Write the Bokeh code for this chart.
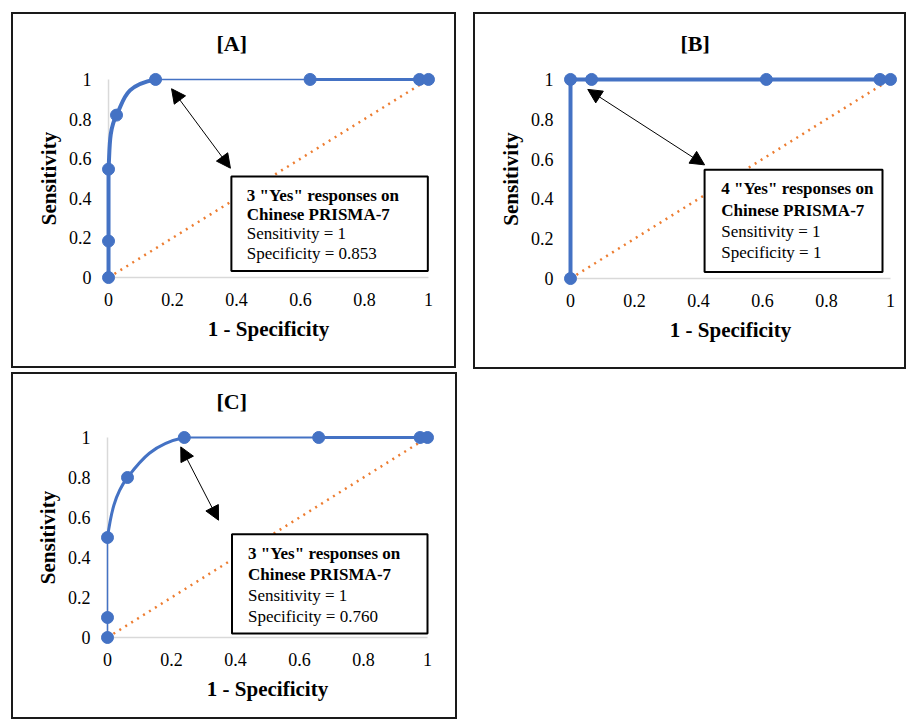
from bokeh.plotting import figure
from bokeh.layouts import row, column
from bokeh.models import Range1d, FixedTicker, CustomJSTickFormatter, Arrow, NormalHead
from bokeh.core.properties import value
from bokeh.embed import file_html
from bokeh.resources import INLINE

# ---------------- data ----------------
ticks = [0, 0.2, 0.4, 0.6, 0.8, 1]
diag_x = [0, 1]
diag_y = [0, 1]

a_x = [0, 0, 0, 0.025, 0.147, 0.63, 0.972, 1]
a_y = [0, 0.184, 0.547, 0.82, 1, 1, 1, 1]

b_x = [0, 0, 0.066, 0.612, 0.967, 1]
b_y = [0, 1, 1, 1, 1, 1]

c_x = [0, 0, 0, 0.0625, 0.24, 0.66, 0.977, 1]
c_y = [0, 0.1, 0.5, 0.8, 1, 1, 1, 1]

titles = ["[A]", "[B]", "[C]"]
x_title = "1 - Specificity"
y_title = "Sensitivity"

box_lines = {
    "A": ['3 "Yes" responses on', "Chinese PRISMA-7", "Sensitivity = 1", "Specificity = 0.853"],
    "B": ['4 "Yes" responses on', "Chinese PRISMA-7", "Sensitivity = 1", "Specificity = 1"],
    "C": ['3 "Yes" responses on', "Chinese PRISMA-7", "Sensitivity = 1", "Specificity = 0.760"],
}

# ---------------- styles ----------------
BLUE = "#4472C4"
ORANGE = "#ED7D31"
FONT = "Liberation Serif"


def smooth_segments(xs, ys):
    """Excel-like smoothed line: cubic Bezier segments through the points
    (Catmull-Rom tangents, control points kept inside the data extent)."""
    n = len(xs)
    lo_x, hi_x, lo_y, hi_y = min(xs), max(xs), min(ys), max(ys)
    clamp = lambda v, lo, hi: max(lo, min(hi, v))
    seg = dict(x0=[], y0=[], x1=[], y1=[], cx0=[], cy0=[], cx1=[], cy1=[])
    for i in range(n - 1):
        p0 = (xs[max(i - 1, 0)], ys[max(i - 1, 0)])
        p1 = (xs[i], ys[i])
        p2 = (xs[i + 1], ys[i + 1])
        p3 = (xs[min(i + 2, n - 1)], ys[min(i + 2, n - 1)])
        c1 = (p1[0] + (p2[0] - p0[0]) / 6, p1[1] + (p2[1] - p0[1]) / 6)
        c2 = (p2[0] - (p3[0] - p1[0]) / 6, p2[1] - (p3[1] - p1[1]) / 6)
        seg["x0"].append(p1[0]); seg["y0"].append(p1[1])
        seg["x1"].append(p2[0]); seg["y1"].append(p2[1])
        seg["cx0"].append(clamp(c1[0], lo_x, hi_x)); seg["cy0"].append(clamp(c1[1], lo_y, hi_y))
        seg["cx1"].append(clamp(c2[0], lo_x, hi_x)); seg["cy1"].append(clamp(c2[1], lo_y, hi_y))
    return seg


def make_panel(title, width, height, mb, ppx, ppy, title_offset):
    pad_x = 10 / ppx
    pad_y = 10 / ppy
    p = figure(width=width, height=height, output_backend="svg", toolbar_location=None,
               x_range=Range1d(-pad_x, 1 + pad_x), y_range=Range1d(-pad_y, 1 + pad_y),
               min_border_left=mb[0], min_border_right=mb[1],
               min_border_top=mb[2], min_border_bottom=mb[3],
               styles={"box-shadow": "inset 0 0 0 2px #1a1a1a", "background-color": "white"})
    p.outline_line_color = None
    p.grid.visible = False
    p.background_fill_color = None
    p.border_fill_color = None
    p.title.text = title
    p.title.align = "left"
    p.title.offset = title_offset
    p.title.text_font = FONT
    p.title.text_font_size = "22px"
    p.title.text_font_style = "bold"
    p.title.text_color = "black"
    p.title.standoff = 27
    fmt = CustomJSTickFormatter(code="return String(Math.round(tick*10)/10);")
    for ax, lab in ((p.xaxis[0], x_title), (p.yaxis[0], y_title)):
        ax.ticker = FixedTicker(ticks=ticks)
        ax.formatter = fmt
        ax.axis_line_color = None
        ax.major_tick_line_color = None
        ax.minor_tick_line_color = None
        ax.major_tick_out = 0
        ax.major_tick_in = 0
        ax.major_label_text_font = FONT
        ax.major_label_text_font_size = "18px"
        ax.major_label_text_color = "black"
        ax.axis_label = lab
        ax.axis_label_text_font = FONT
        ax.axis_label_text_font_size = "21px"
        ax.axis_label_text_font_style = "bold"
        ax.axis_label_text_color = "black"
    p.xaxis[0].major_label_standoff = 5
    p.xaxis[0].axis_label_standoff = 8
    p.yaxis[0].major_label_standoff = 7
    p.yaxis[0].axis_label_standoff = 5
    # gray axis lines at x=0 and y=0
    p.segment(x0=[ticks[0], ticks[0]], y0=[ticks[0], ticks[0]],
              x1=[ticks[-1], ticks[0]], y1=[ticks[0], ticks[-1]],
              line_color="#D9D9D9", line_width=1.5)
    return p


def add_diag(p):
    p.line(diag_x, diag_y, line_color=ORANGE, line_width=2.5, line_dash="2 5")


def add_box(p, lines, left, right, top, bottom, tx, ty):
    p.quad(left=[left], right=[right], top=[top], bottom=[bottom],
           fill_color="white", line_color="black", line_width=2)
    styles_ = ["bold", "bold", "normal", "normal"]
    for txt, yy, st in zip(lines, ty, styles_):
        p.text(x=[tx], y=[yy], text=[txt], text_font=value(FONT), text_font_size="17px",
               text_font_style=st, text_color="black", text_align="left", text_baseline="middle")


def add_arrow(p, xs, ys, xe, ye):
    p.add_layout(Arrow(start=NormalHead(size=14, fill_color="black", line_color="black"),
                       end=NormalHead(size=14, fill_color="black", line_color="black"),
                       x_start=xs, y_start=ys, x_end=xe, y_end=ye,
                       line_color="black", line_width=1))


# ---------------- panel A ----------------
pA = make_panel(titles[0], 445, 356, (87, 18, 57, 80), 319, 199, 118)
add_diag(pA)
sa = smooth_segments(a_x, a_y)
sa["w"] = [4, 4, 4, 4, 1.5, 3, 3]
pA.bezier(x0="x0", y0="y0", x1="x1", y1="y1", cx0="cx0", cy0="cy0", cx1="cx1", cy1="cy1",
          source=sa, line_color=BLUE, line_width="w")
pA.scatter(a_x, a_y, size=12, color=BLUE)
add_box(pA, box_lines["A"], 0.384, 0.998, 0.51, 0.033, 0.432, [0.413, 0.318, 0.223, 0.122])
add_arrow(pA, 0.197, 0.953, 0.381, 0.552)

# ---------------- panel B ----------------
pB = make_panel(titles[1], 433, 357, (87, 6, 56, 81), 320, 200, 120)
add_diag(pB)
pB.line(b_x, b_y, line_color=BLUE, line_width=4)
pB.scatter(b_x, b_y, size=12, color=BLUE)
add_box(pB, box_lines["B"], 0.419, 0.975, 0.5465, 0.033, 0.471, [0.45, 0.342, 0.238, 0.133])
add_arrow(pB, 0.054, 0.95, 0.419, 0.571)

# ---------------- panel C ----------------
pC = make_panel(titles[2], 446, 347, (86, 20, 55, 72), 320, 200, 119)
add_diag(pC)
sc = smooth_segments(c_x, c_y)
sc["w"] = [1.5, 1.5, 3, 3, 2, 3, 3]
pC.bezier(x0="x0", y0="y0", x1="x1", y1="y1", cx0="cx0", cy0="cy0", cx1="cx1", cy1="cy1",
          source=sc, line_color=BLUE, line_width="w")
pC.scatter(c_x, c_y, size=12, color=BLUE)
add_box(pC, box_lines["C"], 0.389, 1.0, 0.5165, 0.02, 0.439, [0.42, 0.3165, 0.2115, 0.1065])
add_arrow(pC, 0.229, 0.953, 0.347, 0.5865)

layout = column(row(pA, pB, spacing=17), pC, spacing=3, margin=(12, 0, 0, 11))

open("out.html", "w").write(file_html(layout, INLINE))
